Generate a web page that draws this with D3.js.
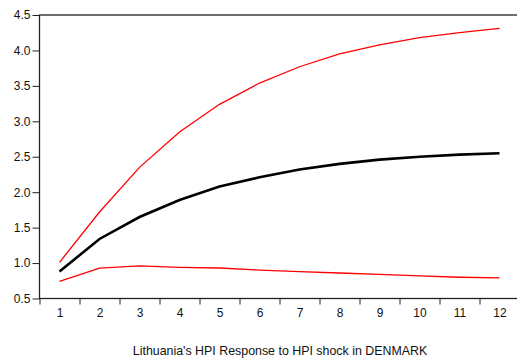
<!DOCTYPE html>
<html><head><meta charset="utf-8">
<script src="https://cdn.jsdelivr.net/npm/d3@7"></script>
<style>
body{margin:0;background:#fff;}
text{font-family:"Liberation Sans",Arial,sans-serif;}
</style></head>
<body><svg id="c" width="517" height="364"></svg>
<script>
const periods = [1,2,3,4,5,6,7,8,9,10,11,12];
const response = [0.88,1.34,1.65,1.89,2.08,2.21,2.32,2.40,2.46,2.50,2.53,2.55];
const upperBand = [1.01,1.72,2.35,2.85,3.24,3.54,3.77,3.95,4.08,4.18,4.25,4.31];
const lowerBand = [0.74,0.93,0.96,0.94,0.93,0.90,0.88,0.86,0.84,0.82,0.80,0.79];
const yTicks = [0.5,1.0,1.5,2.0,2.5,3.0,3.5,4.0,4.5];
const title = "Lithuania's HPI Response to HPI shock in DENMARK";

const svg = d3.select("#c");
const L=39.5, R=519.5, T=15, B=298.5;
const x = d3.scaleLinear().domain([0.5,12.5]).range([L,R]);
const y = d3.scaleLinear().domain([0.5,4.5]).range([B,T]);

// frame
svg.append("rect").attr("x",L).attr("y",T).attr("width",R-L).attr("height",B-T)
  .attr("fill","none").attr("stroke","#222").attr("stroke-width",1.3);

// y axis
const ya = svg.append("g").attr("transform",`translate(${L},0)`)
  .call(d3.axisLeft(y).tickValues(yTicks).tickFormat(d3.format(".1f")).tickSize(7).tickPadding(2));
ya.select(".domain").remove();
ya.selectAll("text").attr("font-size",12).attr("fill","#111").attr("font-family","Liberation Sans, Arial, sans-serif");
ya.selectAll("line").attr("stroke","#222");

// x tick marks at band edges
const edges = d3.range(0.5,12.5,1);
const xm = svg.append("g").attr("transform",`translate(0,${B})`)
  .call(d3.axisBottom(x).tickValues(edges).tickFormat("").tickSize(6));
xm.select(".domain").remove();
xm.selectAll("line").attr("stroke","#222");
// x labels
const xl = svg.append("g").attr("transform",`translate(0,${B})`)
  .call(d3.axisBottom(x).tickValues(periods).tickFormat(d3.format("d")).tickSize(0).tickPadding(10));
xl.select(".domain").remove();
xl.selectAll("text").attr("font-size",12).attr("fill","#111").attr("font-family","Liberation Sans, Arial, sans-serif");

const line = d3.line().x((d,i)=>x(periods[i])).y(d=>y(d));
svg.append("path").datum(upperBand).attr("d",line).attr("fill","none").attr("stroke","#ff0000").attr("stroke-width",1.3);
svg.append("path").datum(lowerBand).attr("d",line).attr("fill","none").attr("stroke","#ff0000").attr("stroke-width",1.3);
svg.append("path").datum(response).attr("d",line).attr("fill","none").attr("stroke","#000").attr("stroke-width",2.6);

svg.append("text").attr("x",280).attr("y",355).attr("text-anchor","middle")
  .attr("font-size",12.4).attr("fill","#111").text(title);
</script></body></html>
